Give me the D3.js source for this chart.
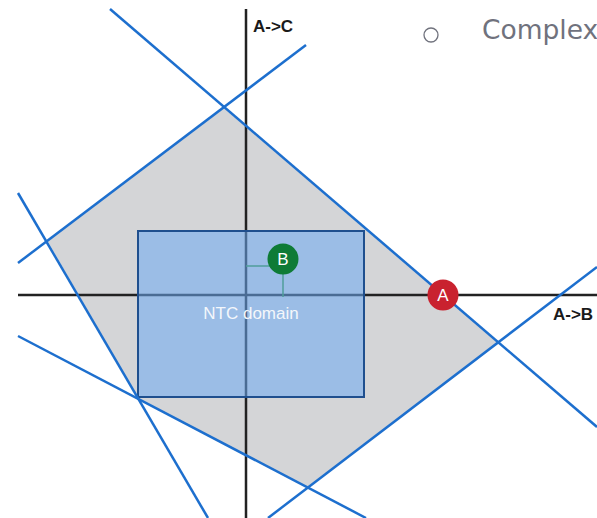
<!DOCTYPE html>
<html>
<head>
<meta charset="utf-8">
<script src="https://cdn.jsdelivr.net/npm/d3@7"></script>
<style>
  html, body { margin: 0; padding: 0; background: #fff; }
  svg { display: block; }
</style>
</head>
<body>
<svg></svg>
<script>
var WIDTH = 597;
var HEIGHT = 518;

// constraint lines (start / end in chart units, origin where the axes cross)
var lines = [
  { x1: -6.8, y1: 14.3, x2: 17.55, y2: -6.6 },
  { x1: 3.0, y1: 12.5, x2: -11.4, y2: 1.6 },
  { x1: -11.4, y1: 5.1, x2: -1.9, y2: -11.15 },
  { x1: 17.55, y1: 1.4, x2: 1.1, y2: -11.15 },
  { x1: -11.4, y1: -2.05, x2: 6.0, y2: -11.15 }
];

// feasible region (gray polygon)
var region = [
  [-1.1, 9.35],
  [12.65, -2.4],
  [3.1, -9.65],
  [-5.4, -5.15],
  [-9.95, 2.75]
];

// NTC domain box
var domainBox = { x0: -5.4, x1: 5.9, y0: -5.1, y1: 3.2, label: 'NTC domain' };

// operating points
var points = [
  { name: 'A', x: 9.85, y: 0, color: '#c9222f', guides: false },
  { name: 'B', x: 1.85, y: 1.45, color: '#0e7b36', guides: true }
];

var axisLabels = { x: 'A->B', y: 'A->C' };
var xExtent = [-11.4, 17.55];
var yExtent = [-11.15, 14.3];

var svg = d3.select('svg')
  .attr('width', WIDTH)
  .attr('height', HEIGHT);

var xScale = d3.scaleLinear().domain(xExtent).range([18, 597]);
var yScale = d3.scaleLinear().domain(yExtent).range([518, 9]);

// gray region
svg.append('path')
  .datum(region)
  .attr('d', d3.line()
    .x(function(d) { return xScale(d[0]); })
    .y(function(d) { return yScale(d[1]); })
    .curve(d3.curveLinearClosed))
  .attr('fill', '#d4d5d7');

// axes
svg.append('line')
  .attr('x1', xScale(xExtent[0]))
  .attr('x2', xScale(xExtent[1]))
  .attr('y1', yScale(0))
  .attr('y2', yScale(0))
  .attr('stroke', '#222')
  .attr('stroke-width', 2.5);
svg.append('line')
  .attr('x1', xScale(0))
  .attr('x2', xScale(0))
  .attr('y1', yScale(yExtent[0]))
  .attr('y2', yScale(yExtent[1]))
  .attr('stroke', '#222')
  .attr('stroke-width', 2.5);

// blue box, see-through so the axes show inside
svg.append('rect')
  .attr('x', xScale(domainBox.x0))
  .attr('y', yScale(domainBox.y1))
  .attr('width', xScale(domainBox.x1) - xScale(domainBox.x0))
  .attr('height', yScale(domainBox.y0) - yScale(domainBox.y1))
  .attr('fill', 'rgb(108,170,242)')
  .attr('fill-opacity', 0.55)
  .attr('stroke', '#1f4f8e')
  .attr('stroke-width', 2);

svg.append('text')
  .attr('x', (xScale(domainBox.x0) + xScale(domainBox.x1)) / 2)
  .attr('y', 319)
  .attr('text-anchor', 'middle')
  .attr('font-family', 'Liberation Sans, Arial, sans-serif')
  .attr('font-size', 17)
  .attr('fill', '#f4f7fb')
  .text(domainBox.label);

// constraint lines
svg.selectAll('line.constraint')
  .data(lines)
  .enter()
  .append('line')
  .attr('class', 'constraint')
  .attr('x1', function(d) { return xScale(d.x1); })
  .attr('y1', function(d) { return yScale(d.y1); })
  .attr('x2', function(d) { return xScale(d.x2); })
  .attr('y2', function(d) { return yScale(d.y2); })
  .attr('stroke', '#1d6fce')
  .attr('stroke-width', 2.5);

// axis labels
svg.append('text')
  .attr('x', 553)
  .attr('y', 320)
  .attr('font-family', 'Liberation Sans, Arial, sans-serif')
  .attr('font-weight', 'bold')
  .attr('font-size', 17)
  .attr('fill', '#1a1a1a')
  .text(axisLabels.x);
svg.append('text')
  .attr('x', 253)
  .attr('y', 32)
  .attr('font-family', 'Liberation Sans, Arial, sans-serif')
  .attr('font-weight', 'bold')
  .attr('font-size', 17)
  .attr('fill', '#1a1a1a')
  .text(axisLabels.y);

// guide lines from B to the axes
points.filter(function(p) { return p.guides; }).forEach(function(p) {
  svg.append('line')
    .attr('x1', xScale(0))
    .attr('x2', xScale(p.x))
    .attr('y1', yScale(p.y))
    .attr('y2', yScale(p.y))
    .attr('stroke', '#4f9e9a')
    .attr('stroke-width', 1.5);
  svg.append('line')
    .attr('x1', xScale(p.x))
    .attr('x2', xScale(p.x))
    .attr('y1', yScale(p.y))
    .attr('y2', yScale(0) + 2)
    .attr('stroke', '#4f9e9a')
    .attr('stroke-width', 1.5);
});

// point markers (B's marker sits a little above its guide corner)
var marks = svg.selectAll('g.point')
  .data(points)
  .enter()
  .append('g')
  .attr('class', 'point')
  .attr('transform', function(d) {
    var dy = d.guides ? -7 : 0;
    return 'translate(' + xScale(d.x) + ',' + (yScale(d.y) + dy) + ')';
  });
marks.append('circle')
  .attr('r', 15.5)
  .attr('fill', function(d) { return d.color; });
marks.append('text')
  .attr('text-anchor', 'middle')
  .attr('dy', 6)
  .attr('font-family', 'Liberation Sans, Arial, sans-serif')
  .attr('font-size', 17)
  .attr('fill', '#fff')
  .text(function(d) { return d.name; });

// slide bullet text, cut off at the right edge
svg.append('circle')
  .attr('cx', 431)
  .attr('cy', 35)
  .attr('r', 7)
  .attr('fill', 'none')
  .attr('stroke', '#70727d')
  .attr('stroke-width', 1.3);
svg.append('text')
  .attr('x', 482)
  .attr('y', 38.5)
  .attr('font-family', 'DejaVu Sans, sans-serif')
  .attr('font-size', 26.5)
  .attr('fill', '#70727d')
  .text('Complex');
</script>
</body>
</html>
